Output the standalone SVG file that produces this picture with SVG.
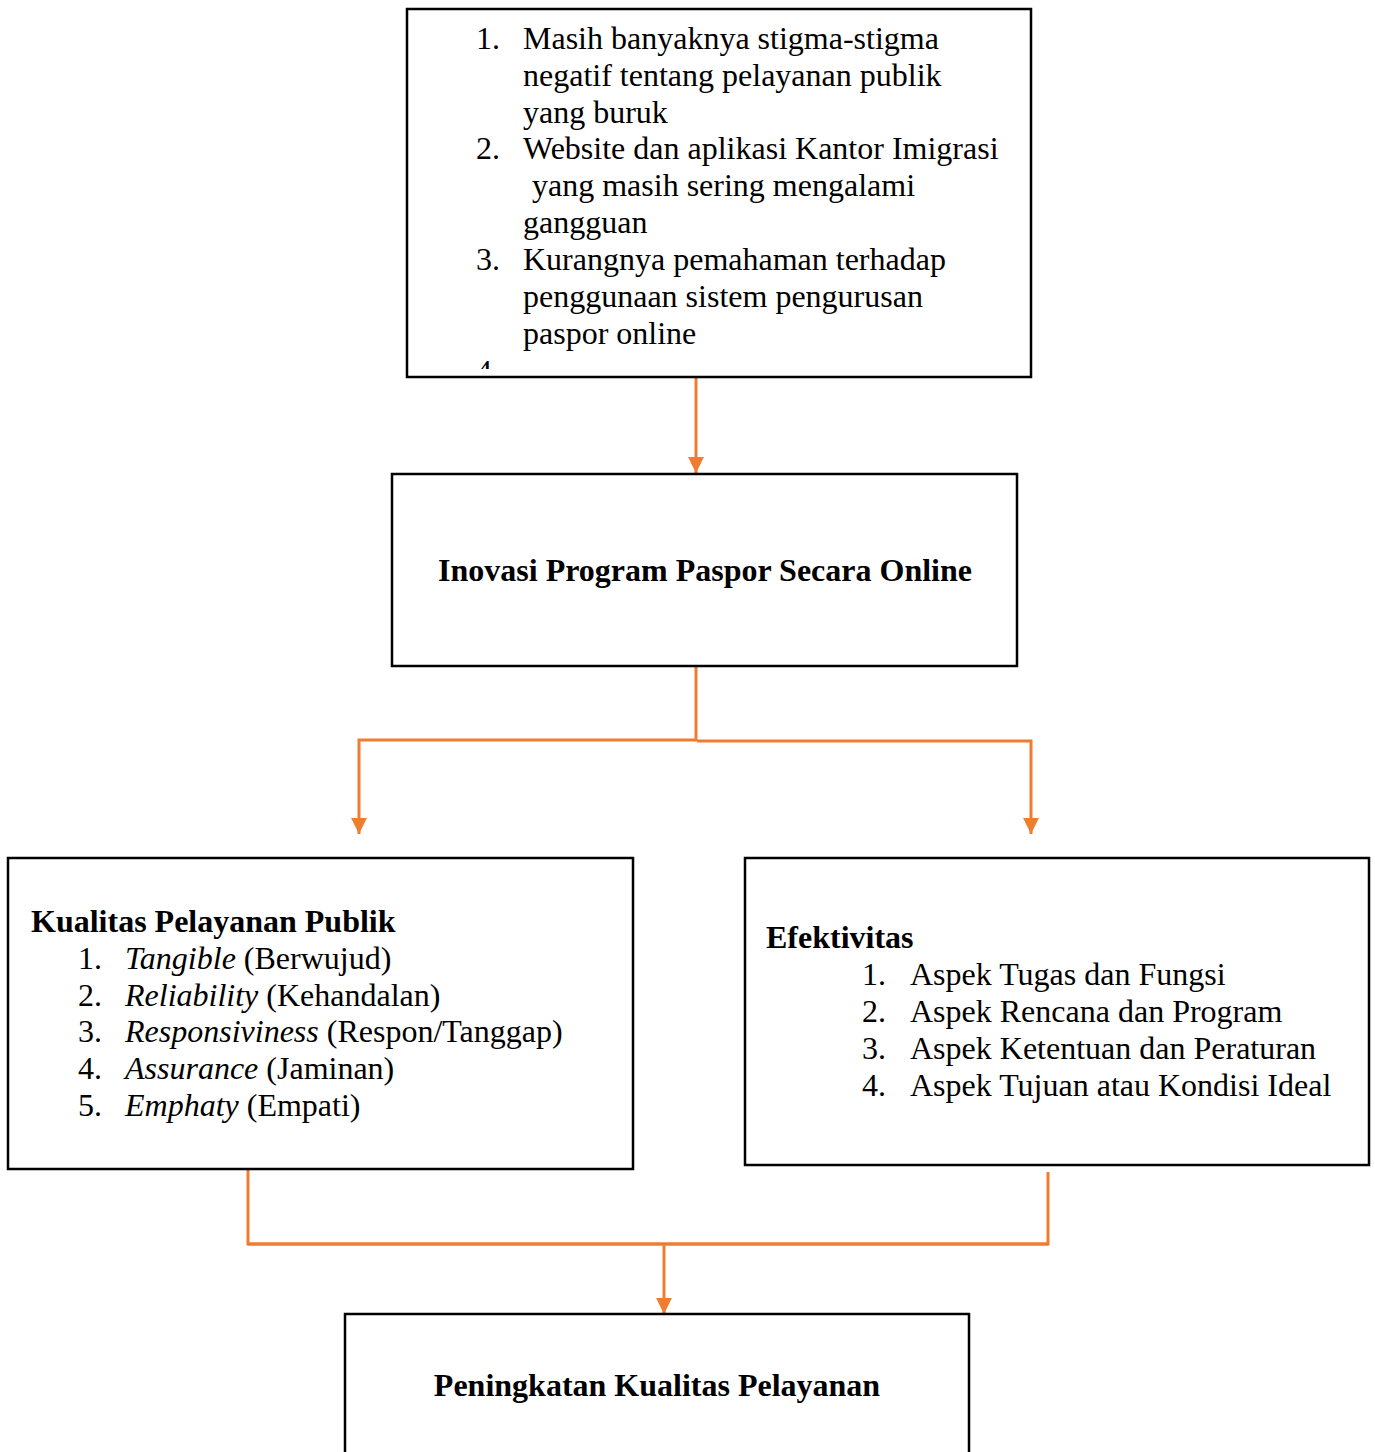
<svg xmlns="http://www.w3.org/2000/svg" width="1375" height="1452" viewBox="0 0 1375 1452">
<style>
.box{fill:#fff;stroke:#000;stroke-width:2.5}
.t{font-family:"Liberation Serif","Times New Roman",serif;font-size:32px;fill:#000}
.b{font-weight:bold}
.i{font-style:italic}
.c{fill:none;stroke:#ED7D31;stroke-width:3}
</style>
<defs>
<marker id="ah" viewBox="0 0 10 10" refX="10" refY="5" markerWidth="5.3" markerHeight="5.3" orient="auto" markerUnits="strokeWidth">
<path d="M0,0 L10,5 L0,10 z" fill="#ED7D31"/>
</marker>
<clipPath id="clipTop"><rect x="407" y="9" width="624" height="360"/></clipPath>
</defs>
<rect width="1375" height="1452" fill="#fff"/>
<g id="connectors">
<line class="c" x1="696" y1="378" x2="696" y2="473" marker-end="url(#ah)"/>
<polyline class="c" points="696,667 696,740 359,740 359,834" marker-end="url(#ah)"/>
<polyline class="c" points="697,741 1031,741 1031,834" marker-end="url(#ah)"/>
<polyline class="c" points="248,1170 248,1244 1048,1244 1048,1172" stroke-width="2.5"/>
<line class="c" x1="248" y1="1244" x2="1048" y2="1244" stroke-width="3.5"/>
<line class="c" x1="664" y1="1244" x2="664" y2="1314" marker-end="url(#ah)"/>
</g>
<g id="node-masalah">
<rect class="box" x="407" y="9" width="624" height="368"/>
<g class="t" clip-path="url(#clipTop)">
<text x="476" y="49">1.</text><text x="523" y="49">Masih banyaknya stigma-stigma</text>
<text x="523" y="86">negatif tentang pelayanan publik</text>
<text x="523" y="123">yang buruk</text>
<text x="476" y="159">2.</text><text x="523" y="159">Website dan aplikasi Kantor Imigrasi</text>
<text x="532" y="196">yang masih sering mengalami</text>
<text x="523" y="233">gangguan</text>
<text x="476" y="270">3.</text><text x="523" y="270">Kurangnya pemahaman terhadap</text>
<text x="523" y="307">penggunaan sistem pengurusan</text>
<text x="523" y="344">paspor online</text>
<text x="476" y="382">4.</text>
</g>
</g>
<g id="node-inovasi">
<rect class="box" x="392" y="474" width="625" height="192"/>
<text class="t b" x="705" y="581" text-anchor="middle">Inovasi Program Paspor Secara Online</text>
</g>
<g id="node-kualitas">
<rect class="box" x="8" y="858" width="625" height="311"/>
<text class="t b" x="31" y="932">Kualitas Pelayanan Publik</text>
<g class="t">
<text x="78" y="969">1.</text><text x="125" y="969"><tspan class="i">Tangible</tspan> (Berwujud)</text>
<text x="78" y="1006">2.</text><text x="125" y="1006"><tspan class="i">Reliability</tspan> (Kehandalan)</text>
<text x="78" y="1042">3.</text><text x="125" y="1042"><tspan class="i">Responsiviness</tspan> (Respon/Tanggap)</text>
<text x="78" y="1079">4.</text><text x="125" y="1079"><tspan class="i">Assurance</tspan> (Jaminan)</text>
<text x="78" y="1116">5.</text><text x="125" y="1116"><tspan class="i">Emphaty</tspan> (Empati)</text>
</g>
</g>
<g id="node-efektivitas">
<rect class="box" x="745" y="858" width="624" height="307"/>
<text class="t b" x="766" y="948">Efektivitas</text>
<g class="t">
<text x="862" y="985">1.</text><text x="910" y="985">Aspek Tugas dan Fungsi</text>
<text x="862" y="1022">2.</text><text x="910" y="1022">Aspek Rencana dan Program</text>
<text x="862" y="1059">3.</text><text x="910" y="1059">Aspek Ketentuan dan Peraturan</text>
<text x="862" y="1096">4.</text><text x="910" y="1096">Aspek Tujuan atau Kondisi Ideal</text>
</g>
</g>
<g id="node-peningkatan">
<rect class="box" x="345" y="1314" width="624" height="150"/>
<text class="t b" x="657" y="1396" text-anchor="middle">Peningkatan Kualitas Pelayanan</text>
</g>
</svg>
